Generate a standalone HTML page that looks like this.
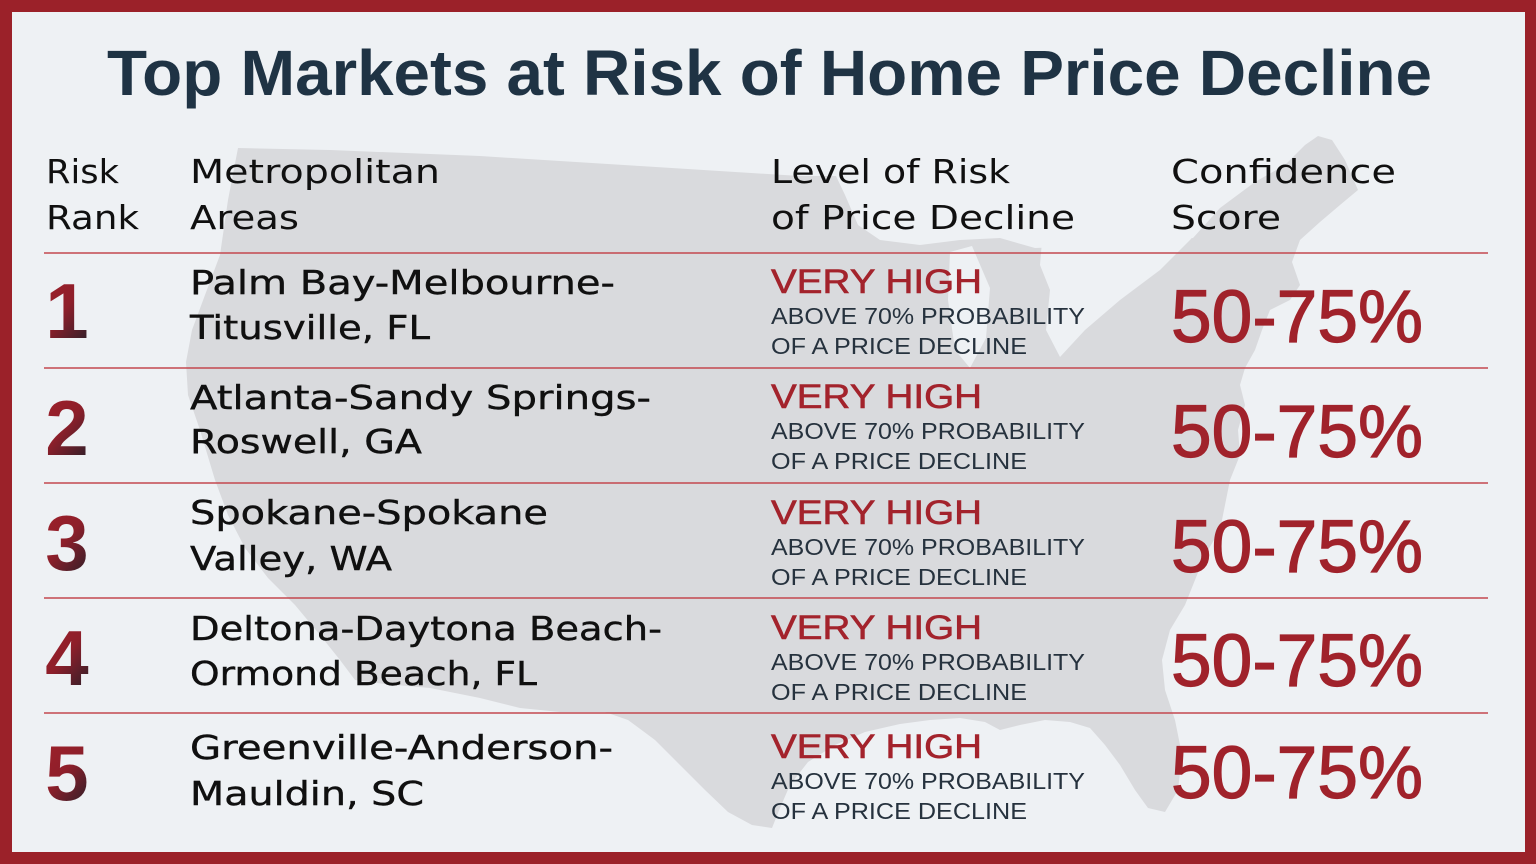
<!DOCTYPE html>
<html><head><meta charset="utf-8"><style>
html,body{margin:0;padding:0;background:#eef1f4;}
svg{display:block;}
</style></head><body>
<svg width="1536" height="864" viewBox="0 0 1536 864" xmlns="http://www.w3.org/2000/svg">
<defs>
<linearGradient id="dg" x1="0" y1="0" x2="0.6" y2="1">
<stop offset="0" stop-color="#a1202b"/>
<stop offset="0.55" stop-color="#8e1f2a"/>
<stop offset="1" stop-color="#3a1f29"/>
</linearGradient>
</defs>
<rect x="0" y="0" width="1536" height="864" fill="#9b2129"/>
<rect x="12" y="12" width="1513" height="840" fill="#eef1f4"/>
<!-- US map silhouette -->
<path fill="#d9dadd" d="M 238 148 L 330 150 L 480 156 L 640 166 L 800 176 L 836 176 L 845 195 L 858 225 L 880 240 L 920 245 L 960 240 L 1000 238 L 1035 248 L 1110 245 L 1193 238 L 1220 208 L 1255 182 L 1285 165 L 1305 145 L 1318 136 L 1332 140 L 1345 160 L 1358 190 L 1340 205 L 1320 222 L 1300 240 L 1292 262 L 1300 285 L 1290 300 L 1270 310 L 1262 330 L 1255 350 L 1245 368 L 1240 385 L 1245 405 L 1238 430 L 1240 455 L 1230 480 L 1225 505 L 1220 530 L 1205 555 L 1195 580 L 1185 605 L 1170 630 L 1162 660 L 1165 690 L 1175 720 L 1182 755 L 1178 790 L 1165 812 L 1148 808 L 1135 790 L 1120 765 L 1105 745 L 1090 728 L 1070 722 L 1045 720 L 1020 725 L 1000 730 L 985 722 L 960 718 L 930 720 L 900 724 L 865 732 L 835 745 L 808 762 L 790 785 L 780 808 L 772 828 L 752 825 L 728 812 L 705 790 L 680 765 L 655 740 L 628 720 L 605 712 L 560 712 L 520 708 L 480 698 L 430 688 L 385 684 L 355 680 L 340 660 L 320 635 L 295 605 L 268 578 L 245 548 L 228 515 L 215 480 L 200 430 L 188 395 L 186 362 L 192 330 L 205 295 L 220 255 L 228 200 Z"/>
<!-- lakes -->
<path fill="#eef1f4" d="M 950 252 L 972 246 L 990 288 L 986 338 L 970 368 L 955 350 L 948 300 Z"/>
<path fill="#eef1f4" d="M 1043 230 L 1110 230 L 1200 228 L 1190 240 L 1160 270 L 1120 300 L 1085 330 L 1060 357 L 1046 330 L 1050 290 L 1040 265 Z"/>
<!-- row lines -->
<g stroke="#c4484f" stroke-width="1.6">
<line x1="44" y1="253" x2="1488" y2="253"/>
<line x1="44" y1="368" x2="1488" y2="368"/>
<line x1="44" y1="483" x2="1488" y2="483"/>
<line x1="44" y1="598" x2="1488" y2="598"/>
<line x1="44" y1="713" x2="1488" y2="713"/>
</g>
<!-- title -->
<text x="107" y="95" font-family="Liberation Sans, Arial, sans-serif" font-weight="bold" font-size="64" fill="#1f3344" textLength="1325" lengthAdjust="spacingAndGlyphs">Top Markets at Risk of Home Price Decline</text>
<!-- headers -->
<g font-family="DejaVu Sans, Liberation Sans, sans-serif" font-size="33" fill="#101010">
<text x="46" y="183" textLength="73" lengthAdjust="spacingAndGlyphs">Risk</text>
<text x="46" y="229" textLength="93" lengthAdjust="spacingAndGlyphs">Rank</text>
<text x="190" y="183" textLength="250" lengthAdjust="spacingAndGlyphs">Metropolitan</text>
<text x="190" y="229" textLength="109" lengthAdjust="spacingAndGlyphs">Areas</text>
<text x="771" y="183" textLength="239" lengthAdjust="spacingAndGlyphs">Level of Risk</text>
<text x="771" y="229" textLength="304" lengthAdjust="spacingAndGlyphs">of Price Decline</text>
<text x="1171" y="183" textLength="225" lengthAdjust="spacingAndGlyphs">Confidence</text>
<text x="1171" y="229" textLength="110" lengthAdjust="spacingAndGlyphs">Score</text>
</g>
<!-- rank numbers -->
<g font-family="Liberation Sans, Arial, sans-serif" font-weight="bold" font-size="78" fill="url(#dg)" text-anchor="middle">
<text x="67" y="338">1</text>
<text x="67" y="455">2</text>
<text x="67" y="570">3</text>
<text x="67" y="685">4</text>
<text x="67" y="800">5</text>
</g>
<!-- names -->
<g font-family="DejaVu Sans, Liberation Sans, sans-serif" font-size="33" fill="#101010" stroke="#101010" stroke-width="0.4">
<text x="190" y="294" textLength="425" lengthAdjust="spacingAndGlyphs">Palm Bay-Melbourne-</text>
<text x="190" y="339" textLength="240" lengthAdjust="spacingAndGlyphs">Titusville, FL</text>
<text x="190" y="409" textLength="461" lengthAdjust="spacingAndGlyphs">Atlanta-Sandy Springs-</text>
<text x="190" y="453" textLength="232" lengthAdjust="spacingAndGlyphs">Roswell, GA</text>
<text x="190" y="524" textLength="358" lengthAdjust="spacingAndGlyphs">Spokane-Spokane</text>
<text x="190" y="570" textLength="202" lengthAdjust="spacingAndGlyphs">Valley, WA</text>
<text x="190" y="640" textLength="472" lengthAdjust="spacingAndGlyphs">Deltona-Daytona Beach-</text>
<text x="190" y="685" textLength="347" lengthAdjust="spacingAndGlyphs">Ormond Beach, FL</text>
<text x="190" y="759" textLength="423" lengthAdjust="spacingAndGlyphs">Greenville-Anderson-</text>
<text x="190" y="805" textLength="234" lengthAdjust="spacingAndGlyphs">Mauldin, SC</text>
</g>
<!-- risk level -->
<g font-family="Liberation Sans, Arial, sans-serif" font-size="34" fill="#a3232c" stroke="#a3232c" stroke-width="0.6">
<text x="771" y="293" textLength="211" lengthAdjust="spacingAndGlyphs">VERY HIGH</text>
<text x="771" y="408" textLength="211" lengthAdjust="spacingAndGlyphs">VERY HIGH</text>
<text x="771" y="524" textLength="211" lengthAdjust="spacingAndGlyphs">VERY HIGH</text>
<text x="771" y="639" textLength="211" lengthAdjust="spacingAndGlyphs">VERY HIGH</text>
<text x="771" y="758" textLength="211" lengthAdjust="spacingAndGlyphs">VERY HIGH</text>
</g>
<g font-family="Liberation Sans, Arial, sans-serif" font-size="23" fill="#26323e">
<text x="771" y="324" textLength="314" lengthAdjust="spacingAndGlyphs">ABOVE 70% PROBABILITY</text>
<text x="771" y="354" textLength="256" lengthAdjust="spacingAndGlyphs">OF A PRICE DECLINE</text>
<text x="771" y="439" textLength="314" lengthAdjust="spacingAndGlyphs">ABOVE 70% PROBABILITY</text>
<text x="771" y="469" textLength="256" lengthAdjust="spacingAndGlyphs">OF A PRICE DECLINE</text>
<text x="771" y="555" textLength="314" lengthAdjust="spacingAndGlyphs">ABOVE 70% PROBABILITY</text>
<text x="771" y="585" textLength="256" lengthAdjust="spacingAndGlyphs">OF A PRICE DECLINE</text>
<text x="771" y="670" textLength="314" lengthAdjust="spacingAndGlyphs">ABOVE 70% PROBABILITY</text>
<text x="771" y="700" textLength="256" lengthAdjust="spacingAndGlyphs">OF A PRICE DECLINE</text>
<text x="771" y="789" textLength="314" lengthAdjust="spacingAndGlyphs">ABOVE 70% PROBABILITY</text>
<text x="771" y="819" textLength="256" lengthAdjust="spacingAndGlyphs">OF A PRICE DECLINE</text>
</g>
<!-- confidence -->
<g font-family="Liberation Sans, Arial, sans-serif" font-size="74" fill="#a0222b" stroke="#a0222b" stroke-width="1.2">
<text x="1171" y="342" textLength="252" lengthAdjust="spacingAndGlyphs">50-75%</text>
<text x="1171" y="457" textLength="252" lengthAdjust="spacingAndGlyphs">50-75%</text>
<text x="1171" y="572" textLength="252" lengthAdjust="spacingAndGlyphs">50-75%</text>
<text x="1171" y="686" textLength="252" lengthAdjust="spacingAndGlyphs">50-75%</text>
<text x="1171" y="798" textLength="252" lengthAdjust="spacingAndGlyphs">50-75%</text>
</g>
</svg>
</body></html>
